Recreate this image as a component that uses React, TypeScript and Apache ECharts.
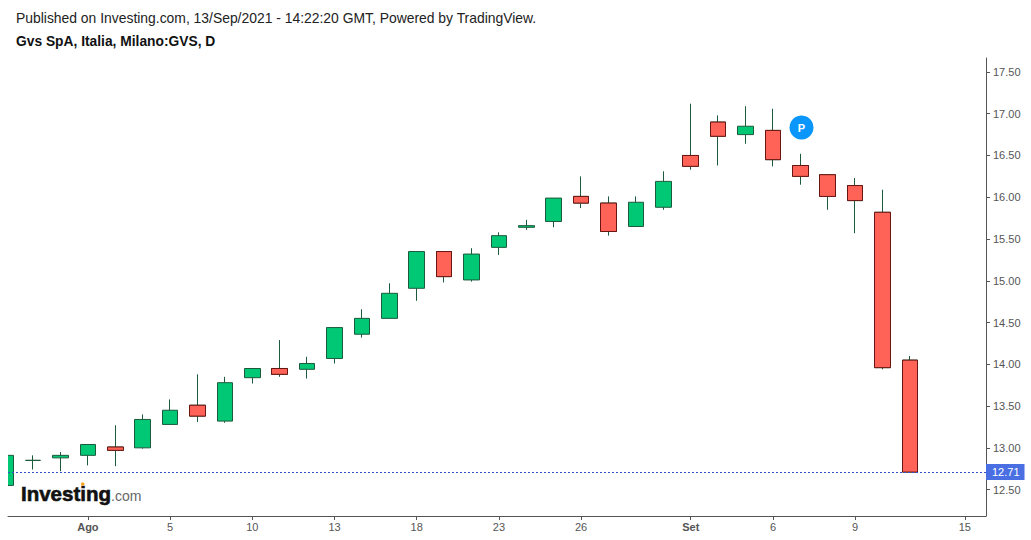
import React, { useEffect, useRef } from "react";
import * as echarts from "echarts";

// Trading-day index, counted from 2 Aug 2021 (index 0).
const days = [-3,-2,-1,0,1,2,3,4,5,6,7,8,9,10,11,12,13,14,15,16,17,18,19,20,21,22,23,24,25,26,27,28,29,30];
const opens = [12.55,12.85,12.88,12.91,13.01,13.00,13.28,13.51,13.32,13.84,13.95,13.94,14.07,14.36,14.55,14.91,15.35,15.01,15.40,15.64,15.71,16.01,15.93,15.65,15.88,16.50,16.90,16.75,16.80,16.38,16.27,16.14,15.82,14.05];
const closes = [12.91,12.85,12.91,13.04,12.97,13.34,13.45,13.38,13.78,13.95,13.88,14.01,14.44,14.55,14.85,15.35,15.05,15.32,15.54,15.66,15.99,15.93,15.59,15.94,16.19,16.37,16.73,16.85,16.45,16.25,16.01,15.96,13.96,12.71];
const lows = [12.55,12.74,12.72,12.79,12.78,12.99,13.28,13.31,13.30,13.77,13.85,13.83,14.01,14.32,14.55,14.76,14.98,14.99,15.31,15.61,15.64,15.87,15.54,15.65,15.85,16.33,16.38,16.64,16.37,16.15,15.85,15.57,13.94,12.71];
const highs = [12.91,12.91,12.95,13.04,13.27,13.40,13.58,13.88,13.85,13.95,14.29,14.09,14.44,14.66,14.97,15.35,15.35,15.39,15.58,15.73,15.99,16.25,16.01,16.01,16.31,17.12,16.98,17.09,17.06,16.52,16.27,16.23,16.09,14.10];

const xTickDays = [0,3,6,9,12,15,18,22,25,28,32];
const xTickLabels = ["Ago","5","10","13","18","23","26","Set","6","9","15"];
const yTicks = [12.5,13,13.5,14,14.5,15,15.5,16,16.5,17,17.5];
const lastPrice = 12.71;

const publishedText = "Published on Investing.com, 13/Sep/2021 - 14:22:20 GMT, Powered by TradingView.";
const titleText = "Gvs SpA, Italia, Milano:GVS, D";

const FONT = "'Liberation Sans', Arial, sans-serif";
const GREEN = "#00c875";
const GREEN_DARK = "#1b5a3c";
const RED = "#ff6358";
const RED_DARK = "#6a1512";
const AXIS = "#555555";

export default function App() {
  const ref = useRef<HTMLDivElement>(null);
  useEffect(() => {
    document.body.style.margin = "0";
    document.body.style.background = "#ffffff";
    const chart = echarts.init(ref.current!, undefined, { renderer: "svg" });
    const all = days.map((d, i) => [d, opens[i], closes[i], lows[i], highs[i]]);
    // Down candles get a dark red outline over their dark green wick.
    const downBodies = days
      .map((d, i) => [d, opens[i], closes[i], Math.min(opens[i], closes[i]), Math.max(opens[i], closes[i])])
      .filter((r) => r[2] < r[1]);
    chart.setOption({
      animation: false,
      backgroundColor: "#ffffff",
      textStyle: { fontFamily: FONT },
      grid: { left: 8, right: 45, top: 58, bottom: 24, containLabel: false },
      xAxis: {
        type: "value",
        min: -2.915,
        max: 32.775,
        splitLine: { show: false },
        axisLine: { show: true, onZero: false, lineStyle: { color: AXIS, width: 1 } },
        axisTick: { show: true, length: 4, customValues: xTickDays, lineStyle: { color: AXIS } },
        axisLabel: {
          show: true,
          customValues: xTickDays,
          margin: 5,
          color: AXIS,
          fontFamily: FONT,
          fontSize: 11,
          hideOverlap: false,
          formatter: (v: number) => {
            const s = xTickLabels[xTickDays.indexOf(v)] ?? "";
            return /[A-Za-z]/.test(s) ? `{b|${s}}` : s;
          },
          rich: { b: { fontWeight: "bold", fontSize: 11, color: AXIS, fontFamily: FONT } },
        },
      },
      yAxis: {
        type: "value",
        position: "right",
        min: 12.184,
        max: 17.667,
        scale: true,
        splitLine: { show: false },
        axisLine: { show: true, onZero: false, lineStyle: { color: AXIS, width: 1 } },
        axisTick: { show: true, length: 4, customValues: yTicks, lineStyle: { color: AXIS } },
        axisLabel: {
          show: true,
          customValues: yTicks,
          margin: 7,
          color: AXIS,
          fontFamily: FONT,
          fontSize: 11,
          formatter: (v: number) => v.toFixed(2),
        },
      },
      series: [
        {
          type: "candlestick",
          name: "GVS",
          barWidth: 16,
          data: all,
          itemStyle: {
            color: GREEN,
            color0: RED,
            borderColor: GREEN_DARK,
            borderColor0: GREEN_DARK,
            borderWidth: 1,
          },
          markLine: {
            silent: true,
            symbol: "none",
            animation: false,
            data: [{ yAxis: lastPrice }],
            lineStyle: { color: "#3453c4", type: [2, 2], width: 1 },
            label: {
              show: true,
              position: "end",
              distance: 0,
              formatter: lastPrice.toFixed(2),
              color: "#ffffff",
              fontFamily: FONT,
              fontSize: 11,
              backgroundColor: "#4a6fe3",
              padding: [3, 5, 2, 6],
            },
          },
        },
        {
          type: "candlestick",
          name: "GVS down",
          barWidth: 16,
          data: downBodies,
          itemStyle: {
            color: GREEN,
            color0: RED,
            borderColor: RED_DARK,
            borderColor0: RED_DARK,
            borderWidth: 1,
          },
        },
      ],
      graphic: [
        { type: "rect", z: 100, shape: { x: 0, y: 58, width: 8, height: 457 }, style: { fill: "#ffffff" } },
        { type: "text", x: 16, y: 18, style: { text: publishedText, font: `13.9px ${FONT}`, fill: "#222222", textVerticalAlign: "middle" } },
        { type: "text", x: 16, y: 41, style: { text: titleText, font: `bold 13.8px ${FONT}`, fill: "#111111", textVerticalAlign: "middle" } },
        { type: "circle", shape: { cx: 801.5, cy: 127.5, r: 12 }, style: { fill: "#0a96fa" } },
        { type: "text", x: 801.5, y: 128, style: { text: "P", font: `bold 11px ${FONT}`, fill: "#ffffff", textAlign: "center", textVerticalAlign: "middle" } },
        { type: "text", x: 21, y: 493, style: { text: "Investing", font: `bold 20.5px ${FONT}`, fill: "#111111", stroke: "#111111", lineWidth: 0.6, textVerticalAlign: "middle" } },
        { type: "text", x: 111, y: 496, style: { text: ".com", font: `14px ${FONT}`, fill: "#666666", textVerticalAlign: "middle" } },
        { type: "ellipse", shape: { cx: 82.7, cy: 484, rx: 1.8, ry: 1.8 }, style: { fill: "#f5a623" } },
      ],
    });
    return () => chart.dispose();
  }, []);
  return <div ref={ref} style={{ position: "absolute", left: 0, top: 0, width: 1031, height: 540 }} />;
}
